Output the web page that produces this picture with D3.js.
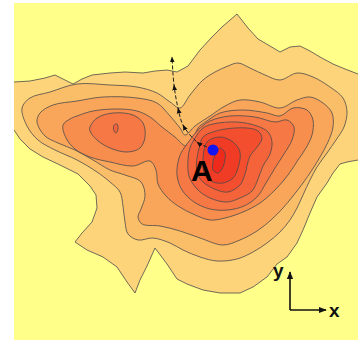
<!DOCTYPE html>
<html>
<head>
<meta charset="utf-8">
<script src="https://cdn.jsdelivr.net/npm/d3@7"></script>
<style>
  body { margin: 0; background: #fff; }
  svg { display: block; }
</style>
</head>
<body>
<div id="chart"></div>
<script>
// contour rings, in map units, outermost first
const ring1 = [
  [0, 83], [14, 82], [30, 81], [45, 78], [55, 75], [65, 80], [73, 84], [82, 79], [92, 75], [110, 73],
  [125, 72], [143, 73], [155, 71], [167, 70], [177, 72], [188, 66], [200, 50], [212, 37], [222, 27],
  [237, 14], [248, 28], [258, 39], [270, 46], [280, 52], [290, 47], [300, 46], [310, 51], [320, 57],
  [333, 64], [345, 69], [358, 74], [372, 76],
  [372, 160], [358, 160], [347, 162], [340, 164], [333, 173], [327, 183], [317, 197], [310, 213],
  [303, 230], [297, 243], [287, 257], [277, 264], [267, 277], [253, 287], [240, 293], [220, 293],
  [203, 290], [187, 284], [177, 279], [167, 264], [155, 248], [147, 266], [140, 280], [135, 293],
  [127, 282], [117, 267], [103, 257], [87, 250], [75, 242], [82, 233], [92, 222], [97, 208],
  [96, 195], [90, 186], [78, 174], [60, 165], [43, 157], [30, 149], [20, 139], [14, 130], [0, 130]
];
const ring2 = [
  [22, 108], [30, 98], [50, 92], [77, 84], [110, 85], [137, 87], [157, 93], [170, 102], [180, 108],
  [190, 95], [203, 80], [215, 72], [228, 66], [238, 63], [250, 68], [265, 75], [280, 80], [297, 73],
  [313, 77], [330, 87], [343, 98], [347, 112], [344, 127], [336, 140], [327, 153], [317, 167],
  [310, 180], [303, 195], [297, 208], [290, 220], [280, 232], [267, 243], [253, 252], [237, 259],
  [217, 261], [200, 257], [183, 250], [170, 243], [153, 238], [138, 240], [128, 234], [125, 222],
  [123, 206], [120, 192], [110, 182], [97, 172], [77, 160], [55, 150], [38, 140], [27, 126]
];
const ring3 = [
  [37, 122], [40, 113], [53, 105], [77, 101], [103, 97], [137, 98], [157, 103], [170, 116],
  [180, 128], [185, 135], [195, 126], [210, 116], [225, 106], [240, 100], [260, 102], [280, 108],
  [297, 100], [310, 97], [323, 103], [332, 113], [333, 127], [328, 142], [320, 157], [312, 170],
  [303, 183], [293, 196], [283, 208], [271, 220], [257, 231], [240, 240], [223, 245], [200, 238],
  [180, 231], [160, 226], [142, 224], [138, 217], [141, 209], [145, 196], [141, 182], [125, 175],
  [110, 170], [93, 160], [75, 150], [58, 143], [45, 136]
];
const ring4 = [
  [63, 125], [70, 119], [77, 116], [93, 111], [117, 109], [137, 111], [150, 117], [162, 127],
  [175, 137], [186, 146], [193, 140], [198, 128], [207, 121], [220, 113], [243, 110], [267, 113],
  [280, 116], [293, 108], [307, 110], [313, 120], [312, 135], [306, 148], [298, 160], [288, 175],
  [275, 190], [260, 203], [243, 212], [225, 218], [210, 220], [193, 214], [178, 206], [166, 196],
  [158, 184], [156, 170], [150, 161], [133, 166], [110, 162], [90, 157], [75, 149], [66, 138]
];
const ring5Left = [
  [90, 127], [97, 118], [113, 113], [133, 115], [143, 123], [145, 137], [140, 148], [127, 152],
  [110, 148], [97, 140], [90, 131]
];
const ring6Left = [[114, 125], [117, 124], [118, 129], [116, 133], [114, 131]];
const ring5Right = [
  [190, 140], [198, 130], [210, 121], [230, 116], [255, 117], [275, 122], [287, 120], [294, 127],
  [292, 140], [284, 154], [275, 168], [266, 183], [257, 197], [244, 206], [228, 210], [210, 209],
  [194, 202], [182, 190], [177, 175], [179, 158], [184, 148]
];
const ring6Right = [
  [195, 138], [203, 128], [213, 124], [237, 122], [257, 126], [268, 132], [272, 142], [270, 154],
  [263, 166], [258, 179], [252, 191], [240, 198], [227, 202], [210, 198], [197, 189], [189, 176],
  [188, 160], [190, 148]
];
const ring7Right = [
  [200, 145], [203, 137], [220, 130], [247, 128], [258, 131], [262, 138], [258, 146], [250, 156],
  [245, 174], [240, 185], [228, 192], [217, 190], [203, 182], [197, 172], [197, 158]
];
const ring8Right = [
  [203, 162], [207, 142], [220, 137], [233, 142], [240, 152], [238, 168], [233, 178], [223, 183],
  [213, 182], [205, 175]
];
const ring9Right = [[213, 162], [215, 155], [220, 148], [225, 153], [223, 167], [218, 173], [213, 170]];

const rings = [ring1, ring2, ring3, ring4, ring5Left, ring6Left,
  ring5Right, ring6Right, ring7Right, ring8Right, ring9Right];
const ringLevels = [0, 1, 2, 3, 4, 5, 4, 5, 6, 7, 8];

const backgroundColor = '#FFFF8A';
const levelColors = ['#FDD47A', '#FBBE68', '#F9A65A', '#F78E4E', '#F67845',
  '#F5633A', '#F34F2F', '#F13C25', '#EE2A1C'];

// path from point A, with a step arrow at every vertex
const pathSteps = [[207, 147], [197, 142], [183, 125], [178, 108], [174, 85], [172, 57]];
const pointA = [213, 150];
const labelA = 'A';

// little x/y direction sign in the corner
const axisOrigin = [290, 310];
const axisTips = { x: [326, 310], y: [290, 272] };
const axisLabels = [{ text: 'y', at: [273, 277] }, { text: 'x', at: [329, 317] }];

const width = 360, height = 340;
const frame = { left: 14, top: 3, right: 358, bottom: 340 };

const x = d3.scaleLinear().domain([14, 358]).range([frame.left, frame.right]);
const y = d3.scaleLinear().domain([3, 340]).range([frame.top, frame.bottom]);

const svg = d3.select('#chart').append('svg')
  .attr('width', width)
  .attr('height', height);

const defs = svg.append('defs');
defs.append('clipPath').attr('id', 'frame')
  .append('rect')
  .attr('x', frame.left).attr('y', frame.top)
  .attr('width', frame.right - frame.left).attr('height', frame.bottom - frame.top);

function arrowMarker(id, size) {
  defs.append('marker')
    .attr('id', id)
    .attr('viewBox', '0 0 10 10')
    .attr('refX', 9).attr('refY', 5)
    .attr('markerWidth', size).attr('markerHeight', size)
    .attr('markerUnits', 'userSpaceOnUse')
    .attr('orient', 'auto')
    .append('path')
    .attr('d', 'M0,1L10,5L0,9Z')
    .attr('fill', '#111');
}
arrowMarker('step', 6);
arrowMarker('tip', 8);

svg.append('rect')
  .attr('x', frame.left).attr('y', frame.top)
  .attr('width', frame.right - frame.left).attr('height', frame.bottom - frame.top)
  .attr('fill', backgroundColor);

const ringLine = d3.line()
  .x(d => x(d[0]))
  .y(d => y(d[1]))
  .curve(d3.curveCatmullRomClosed.alpha(0.5));
const outerLine = d3.line()
  .x(d => x(d[0]))
  .y(d => y(d[1]))
  .curve(d3.curveLinearClosed);

svg.append('g')
  .attr('clip-path', 'url(#frame)')
  .selectAll('path')
  .data(rings)
  .enter().append('path')
  .attr('d', (d, i) => i === 0 ? outerLine(d) : ringLine(d))
  .attr('fill', (d, i) => levelColors[ringLevels[i]])
  .attr('stroke', '#4a4a4a')
  .attr('stroke-width', 0.8)
  .attr('stroke-linejoin', 'round');

// dashed step path
const stepLine = d3.line()
  .x(d => x(d[0]))
  .y(d => y(d[1]))
  .curve(d3.curveCatmullRom.alpha(0.5));

svg.append('path')
  .attr('d', stepLine(pathSteps))
  .attr('fill', 'none')
  .attr('stroke', '#222')
  .attr('stroke-width', 1)
  .attr('stroke-dasharray', '4,2')
  .attr('marker-mid', 'url(#step)')
  .attr('marker-end', 'url(#step)');

svg.append('circle')
  .attr('cx', x(pointA[0])).attr('cy', y(pointA[1]))
  .attr('r', 5.5)
  .attr('fill', '#1414F0');

svg.append('text')
  .attr('x', x(191)).attr('y', y(181))
  .attr('font-family', 'Liberation Sans, Arial, sans-serif')
  .attr('font-weight', 'bold')
  .attr('font-size', 30)
  .attr('fill', '#000')
  .text(labelA);

// direction sign
['x', 'y'].forEach(k => {
  svg.append('line')
    .attr('x1', x(axisOrigin[0])).attr('y1', y(axisOrigin[1]))
    .attr('x2', x(axisTips[k][0])).attr('y2', y(axisTips[k][1]))
    .attr('stroke', '#111')
    .attr('stroke-width', 1.6)
    .attr('marker-end', 'url(#tip)');
});

svg.selectAll('text.axislabel')
  .data(axisLabels)
  .enter().append('text')
  .attr('class', 'axislabel')
  .attr('x', d => x(d.at[0])).attr('y', d => y(d.at[1]))
  .attr('font-family', 'Liberation Sans, Arial, sans-serif')
  .attr('font-weight', 'bold')
  .attr('font-size', 19)
  .attr('fill', '#111')
  .text(d => d.text);
</script>
</body>
</html>
